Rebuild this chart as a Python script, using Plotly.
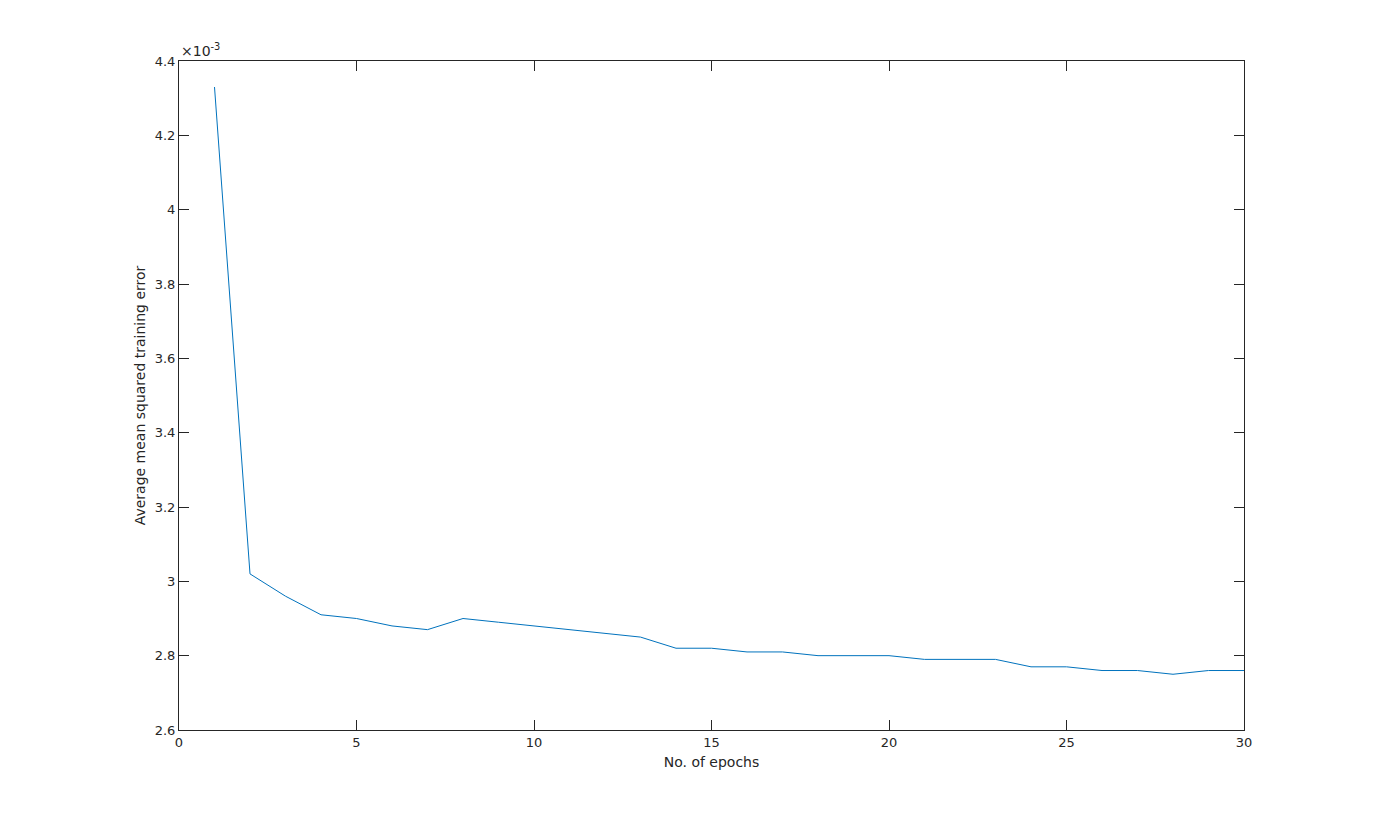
import plotly.graph_objects as go

# training error per epoch (units of 1e-3)
epochs = list(range(1, 31))
mse = [4.33, 3.02, 2.96, 2.91, 2.90, 2.88, 2.87, 2.90, 2.89, 2.88,
       2.87, 2.86, 2.85, 2.82, 2.82, 2.81, 2.81, 2.80, 2.80, 2.80,
       2.79, 2.79, 2.79, 2.77, 2.77, 2.76, 2.76, 2.75, 2.76, 2.76]

y_ticks = [2.6, 2.8, 3.0, 3.2, 3.4, 3.6, 3.8, 4.0, 4.2, 4.4]
y_labels = ["2.6", "2.8", "3", "3.2", "3.4", "3.6", "3.8", "4", "4.2", "4.4"]
x_ticks = [0, 5, 10, 15, 20, 25, 30]

axis_col = "#262626"

fig = go.Figure()
fig.add_trace(go.Scatter(x=epochs, y=mse, mode="lines",
                         line=dict(color="#0072BD", width=1), showlegend=False))

common = dict(showline=True, linecolor=axis_col, linewidth=1, mirror="allticks",
              ticks="inside", ticklen=10, tickcolor=axis_col, showgrid=False,
              zeroline=False, tickfont=dict(size=13, color=axis_col))

fig.update_xaxes(range=[0, 30], tickvals=x_ticks,
                 title=dict(text="No. of epochs", font=dict(size=14, color=axis_col), standoff=8),
                 **common)
fig.update_yaxes(range=[2.6, 4.4], tickvals=y_ticks, ticktext=y_labels,
                 title=dict(text="Average mean squared training error", font=dict(size=14, color=axis_col), standoff=5),
                 **common)

fig.add_annotation(text="×10<sup>-3</sup>", xref="paper", yref="paper", x=0, y=1,
                   xanchor="left", yanchor="bottom", showarrow=False,
                   font=dict(size=14, color=axis_col))

# page body adds an 8px offset, so margins are shifted to keep the axes box in place
fig.update_layout(
    width=1375, height=821,
    margin=dict(l=171, r=139, t=53, b=99),
    paper_bgcolor="white", plot_bgcolor="white",
    font=dict(family="DejaVu Sans", color=axis_col),
)

fig.write_html("out.html")
